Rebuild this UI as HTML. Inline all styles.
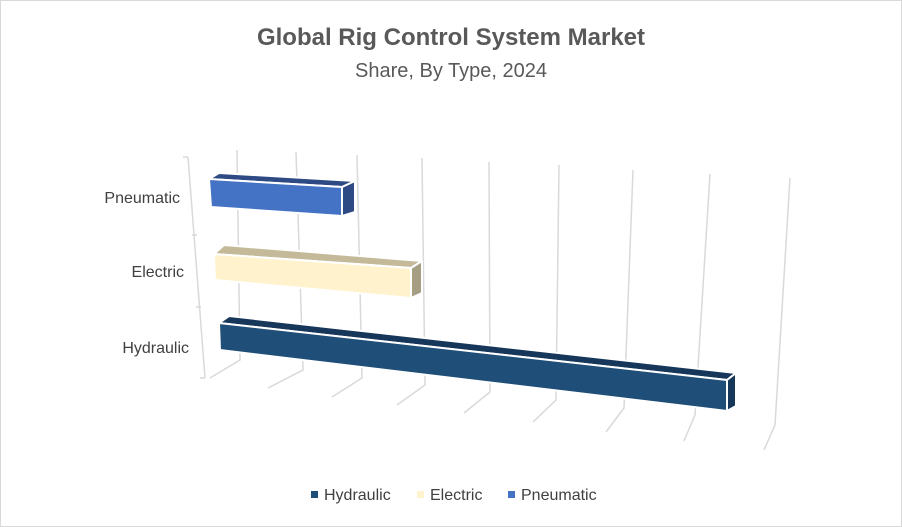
<!DOCTYPE html>
<html><head><style>
html,body{margin:0;padding:0;background:#fff}
svg{display:block;font-family:"Liberation Sans",Arial,sans-serif}
</style></head><body>
<svg width="902" height="527" viewBox="0 0 902 527">
<rect x="0.5" y="0.5" width="901" height="526" fill="#fff" stroke="#d9d9d9"/>
<text x="451" y="45" text-anchor="middle" font-size="24" font-weight="bold" fill="#595959">Global Rig Control System Market</text>
<text x="451" y="77" text-anchor="middle" font-size="20" fill="#595959">Share, By Type, 2024</text>
<g stroke="#d9d9d9" stroke-width="1.5" fill="none">
<path d="M188,157 L205,378 M188,157h-5 M197,235h-5 M201,307h-5 M205,378h-5"/>
<path d="M237,150 L240,360 L210,378"/>
<path d="M296,152 L303,370 L268,388"/>
<path d="M357,155 L362,378 L332,397"/>
<path d="M422,158 L425,385 L397,405"/>
<path d="M489,162 L490,392 L464,413"/>
<path d="M559,165 L556,400 L533,422"/>
<path d="M633,170 L624,408 L606,432"/>
<path d="M710,174 L695,415 L684,441"/>
<path d="M790,178 L775,425 L764,450"/>
</g>
<g stroke="#fff" stroke-width="2" stroke-linejoin="round">
<polygon points="219,173 355,181 342,187 209,179" fill="#2E4A85"/>
<polygon points="342,187 355,181 355,212 342,216" fill="#2E4A85"/>
<polygon points="209,179 342,187 342,216 211,207" fill="#4472C4"/>
<polygon points="224,245 422,261 411,268 214,254" fill="#C4BA9A"/>
<polygon points="411,268 422,261 422,293 411,298" fill="#A59E83"/>
<polygon points="214,254 411,268 411,298 215,280" fill="#FFF2CC"/>
<polygon points="229,316 736,373 727,380 219,323" fill="#16375A"/>
<polygon points="727,380 736,373 736,406 727,411" fill="#16375A"/>
<polygon points="219,323 727,380 727,411 220,350" fill="#1F4E79"/>
</g>
<g font-size="16" fill="#404040" text-anchor="end">
<text x="180" y="203">Pneumatic</text>
<text x="184" y="277">Electric</text>
<text x="189" y="353">Hydraulic</text>
</g>
<g font-size="16" fill="#404040">
<rect x="311" y="491" width="7" height="7" fill="#1F4E79"/><text x="324" y="500">Hydraulic</text>
<rect x="417" y="491" width="7" height="7" fill="#FFF2CC"/><text x="430" y="500">Electric</text>
<rect x="508" y="491" width="7" height="7" fill="#4472C4"/><text x="521" y="500">Pneumatic</text>
</g>
</svg>
</body></html>
